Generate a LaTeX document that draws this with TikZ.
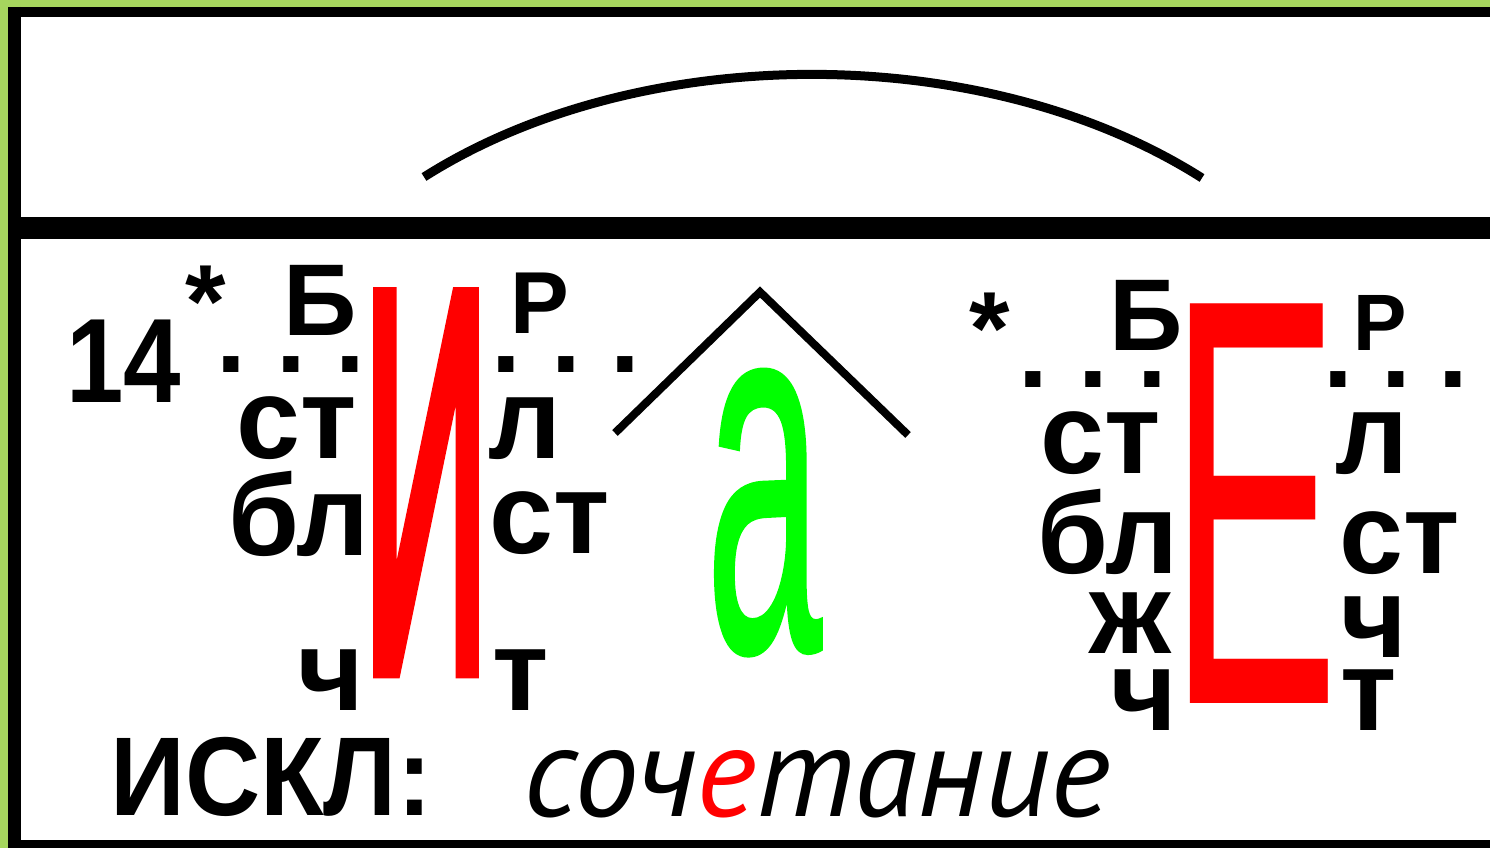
\documentclass[tikz,border=0pt]{standalone}
\usepackage{fontspec}
\setmainfont{Liberation Sans}
\newfontfamily\ptsans{PT Sans}
\newfontfamily\fbI{Liberation Sans}[FakeBold=5]
\newfontfamily\fbA{Liberation Sans}[FakeBold=1]
\definecolor{bggreen}{RGB}{166,214,94}
\definecolor{vred}{RGB}{255,0,0}
\definecolor{vgreen}{RGB}{0,255,0}
\newcommand\fsz[1]{\fontsize{#1}{#1}\selectfont}
\tikzset{
  lbl/.style={inner sep=0pt, outer sep=0pt, anchor=south},
  lc/.style={lbl, font=\bfseries\fsz{115}},
  capb/.style={lbl, font=\bfseries\fsz{102}},
  star/.style={inner sep=0pt, outer sep=0pt, anchor=north, font=\bfseries\fsz{104}},
  dotrow/.style={lbl, font=\bfseries\fsz{107}},
  frameline/.style={draw=black},
}
\begin{document}
\begin{tikzpicture}[x=1pt,y=-1pt]
\useasboundingbox (0,0) rectangle (1490,848);
% background and frame
\fill[bggreen] (0,0) rectangle (1490,848);
\fill[white] (14,12) rectangle (1490,844);
\draw[frameline, line width=10pt] (8,12) -- (1490,12);
\draw[frameline, line width=13pt] (14.5,7) -- (14.5,848);
\draw[frameline, line width=22pt] (8,228) -- (1490,228);
\draw[frameline, line width=8pt] (8,844) -- (1490,844);
% arc
\draw[line width=9pt] (424,177) .. controls (640,40) and (985,40) .. (1202,178);

% left group
\node[lbl, font=\bfseries\fsz{120}] (n14) at (124,402) {\scalebox{0.86}[1]{14}};
\node[star] (starL) at (206,266) {*};
\node[capb] (BL) at (320,335) {Б};
\node[dotrow] (dL1) at (291,372) {.\hspace{30pt}.\hspace{30pt}.};
\node[dotrow] (dL2) at (566,372) {.\hspace{30pt}.\hspace{30pt}.};
\node[lc] (stL) at (297,460) {ст};
\node[lc] (blL) at (299,557) {бл};
\node[lc] (chL) at (331,710) {ч};
\node[lbl, text=vred] (bigI) at (426,665) {\scalebox{0.33}[1]{\fbI\fsz{530}И}};
\node[lbl, font=\bfseries\fsz{88}] (RL) at (540,333) {Р};
\node[lc] (lL) at (525,460) {л};
\node[lc] (st2L) at (550,555) {ст};
\node[lc] (tL) at (521,710) {т};
% caret and green a
\coordinate (cl) at (615,433);
\coordinate (ct) at (760,292);
\coordinate (cr) at (908,435);
\draw[line width=8pt] (cl) -- (ct) -- (cr);
\node[lbl, text=vgreen] (aG) at (764,655) {\scalebox{0.40}[1]{\fbA\fsz{520}а}};

% right group
\node[star] (starR) at (990,293) {*};
\node[capb] (BR) at (1146,350) {Б};
\node[dotrow] (dR1) at (1093,387) {.\hspace{30pt}.\hspace{30pt}.};
\node[dotrow] (dR2) at (1396,387) {.\hspace{28pt}.\hspace{28pt}.};
\node[lc] (stR) at (1101,475) {ст};
\node[lc] (blR) at (1108,575) {бл};
\node[lc] (zhR) at (1130,653) {ж};
\node[lc] (chR) at (1144,730) {ч};
\node[lbl, text=vred] (bigE) at (1254,703) {\scalebox{0.438}[1]{\fsz{581}Е}};
\node[lbl, font=\bfseries\fsz{80}] (RR) at (1380,350) {Р};
\node[lc] (lR) at (1372,475) {л};
\node[lc] (st2R) at (1400,575) {ст};
\node[lc] (ch2R) at (1374,657) {ч};
\node[lc] (tR) at (1369,730) {т};

% bottom line
\node[lbl, font=\bfseries\fsz{112}] (iskl) at (271,817) {\scalebox{0.93}[1]{ИСКЛ:}};
\node[lbl, font=\ptsans\itshape\fsz{129}] (soch) at (817,818) {соч{\color{vred}е}тание};
\end{tikzpicture}
\end{document}
